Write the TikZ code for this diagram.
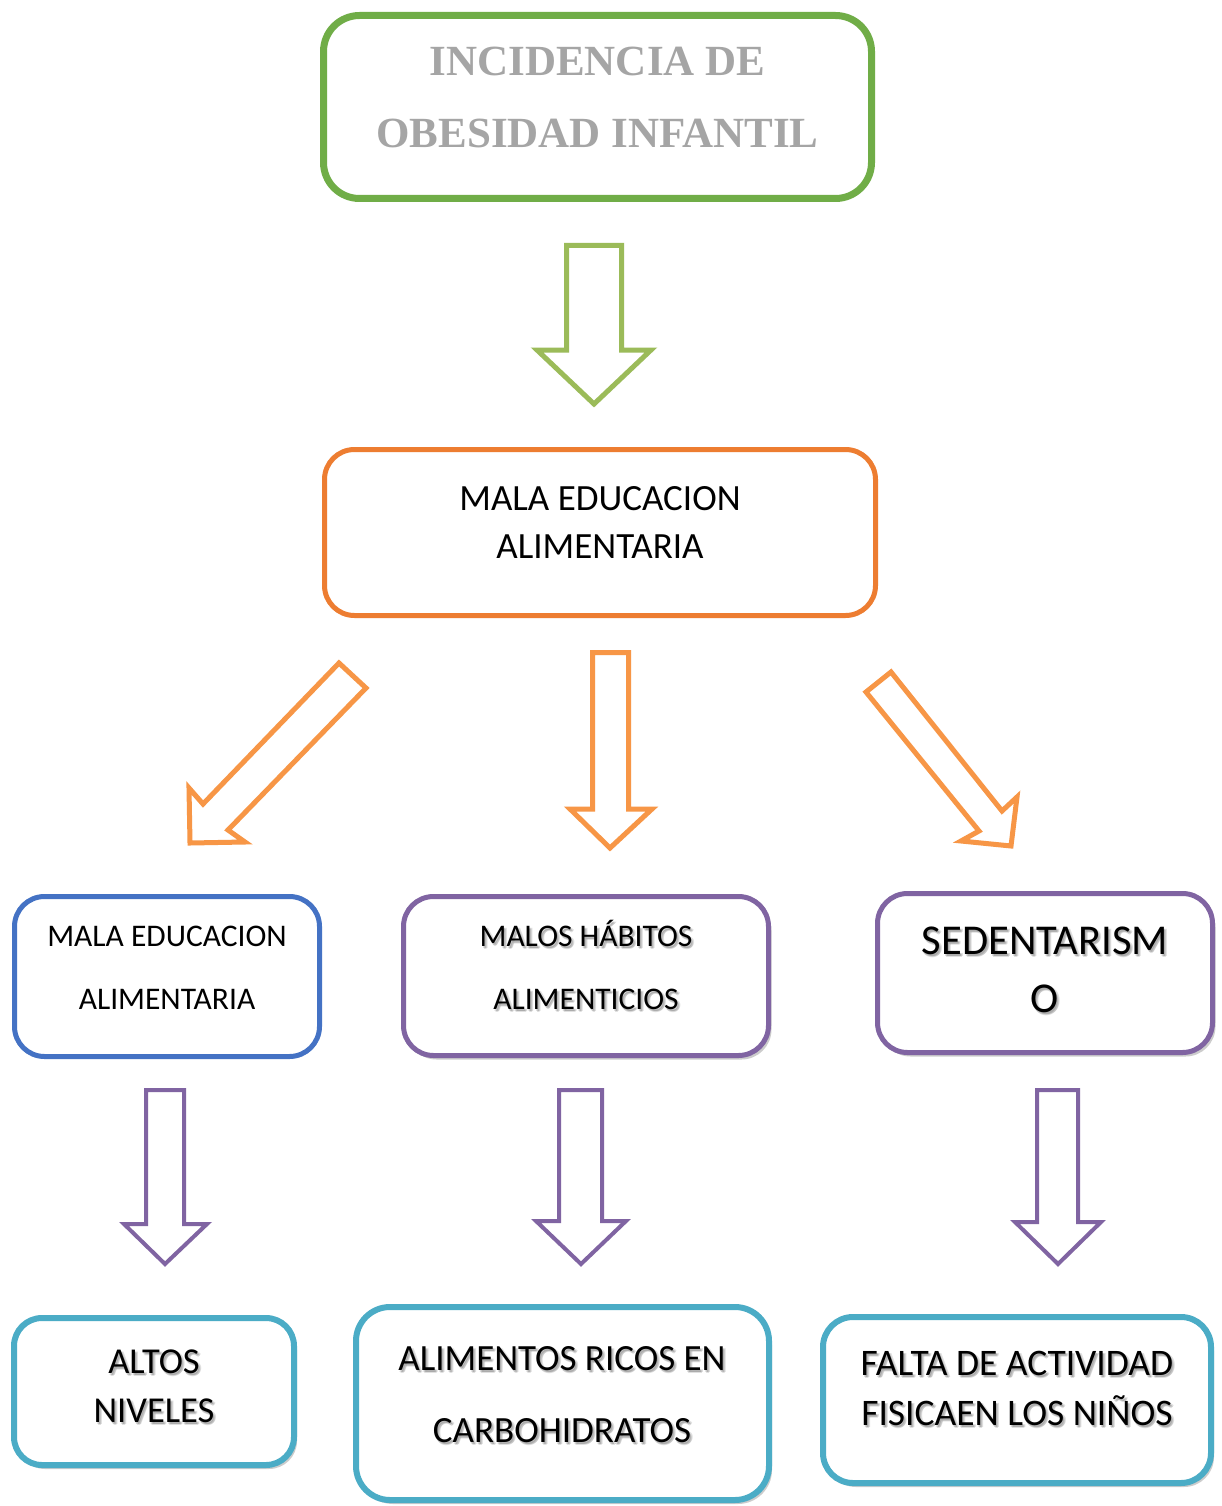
\documentclass[tikz,border=0pt]{standalone}
\usepackage{fontspec}
\setmainfont{Carlito}
\newfontfamily\titlefont{Liberation Serif}
\usetikzlibrary{shadows}
\definecolor{cgreen}{HTML}{70AD47}
\definecolor{clgreen}{HTML}{9BBB59}
\definecolor{corange}{HTML}{ED7D31}
\definecolor{clorange}{HTML}{F79646}
\definecolor{cblue}{HTML}{4472C4}
\definecolor{cpurple}{HTML}{8064A2}
\definecolor{cteal}{HTML}{4BACC6}
\definecolor{cgraytxt}{HTML}{A5A5A5}
\tikzset{
  boxnode/.style={draw, fill=white, rounded corners=30pt, inner sep=0pt},
  softshadow/.style={drop shadow={shadow xshift=3pt, shadow yshift=-4pt, opacity=0.2, fill=black}},
  txt/.style={anchor=base, inner sep=0pt, font=\fontsize{#1}{#1}\selectfont},
  shtxt/.style={anchor=base, inner sep=0pt, text=black, opacity=0.12, font=\fontsize{#1}{#1}\selectfont},
  titletxt/.style={anchor=base, inner sep=0pt, text=cgraytxt, font=\titlefont\bfseries\fontsize{43}{43}\selectfont},
  blockarrow/.style={line width=#1, line join=miter, fill=white},
}
\newcommand\sline[5]{%
  \node[shtxt=#4] (#1s) at (#2+2,#3+3) {#5};
  \node[shtxt=#4] (#1t) at (#2+3,#3+2) {#5};
  \node[shtxt=#4] (#1u) at (#2+1,#3+2) {#5};
  \node[txt=#4] (#1) at (#2,#3) {#5};
}
\begin{document}
\begin{tikzpicture}[x=1pt,y=-1pt]
\useasboundingbox (0,0) rectangle (1222,1506);
\fill[white] (0,0) rectangle (1222,1506);

% top box
\node[boxnode, draw=cgreen, line width=7pt, rounded corners=36pt, minimum width=548pt, minimum height=183pt] (top) at (597.5,107) {};
\node[titletxt] (top1) at (597.5,76) {INCIDENCIA DE};
\node[titletxt] (top2) at (597.5,148) {OBESIDAD INFANTIL};

% green arrow
\draw[blockarrow=5pt, draw=clgreen] (566.5,245.5) -- (621.5,245.5) -- (621.5,350) -- (651,350) -- (594,404) -- (537,350) -- (566.5,350) -- cycle;

% orange box
\node[boxnode, draw=corange, line width=5pt, minimum width=551pt, minimum height=166pt] (mid) at (600,532.5) {};
\node[txt=37] (mid1) at (600,510) {MALA EDUCACION};
\node[txt=37] (mid2) at (600,558) {ALIMENTARIA};

% orange arrows
\draw[blockarrow=5pt, draw=clorange] (339,663) -- (366,688) -- (228,830) -- (245,842) -- (190,843) -- (189,788) -- (203,804) -- cycle;
\draw[blockarrow=5pt, draw=clorange] (592.5,652.5) -- (628.5,652.5) -- (628.5,809) -- (652,809) -- (610,848) -- (570,809) -- (592.5,809) -- cycle;
\draw[blockarrow=5pt, draw=clorange] (891,672) -- (1002,811) -- (1017,797) -- (1011,846) -- (961,841) -- (979,831) -- (866,692) -- cycle;

% row 3
\node[boxnode, draw=cblue, line width=5pt, minimum width=305pt, minimum height=160pt] (b1) at (167,976.5) {};
\node[txt=31.5] (b1a) at (167,946) {MALA EDUCACION};
\node[txt=31.5] (b1b) at (167,1009) {ALIMENTARIA};

\node[boxnode, softshadow, draw=cpurple, line width=5pt, minimum width=365pt, minimum height=159pt] (b2) at (586,976) {};
\sline{b2a}{586}{946}{31.5}{MALOS HÁBITOS}
\sline{b2b}{586}{1009}{31.5}{ALIMENTICIOS}

\node[boxnode, softshadow, draw=cpurple, line width=5pt, minimum width=335pt, minimum height=159pt] (b3) at (1045,973) {};
\sline{b3a}{1045}{954}{42.5}{SEDENTARISM}
\sline{b3b}{1045}{1012}{42.5}{O}

% purple arrows
\draw[blockarrow=4pt, draw=cpurple] (146,1090) -- (184,1090) -- (184,1224) -- (207,1224) -- (165,1264) -- (124,1224) -- (146,1224) -- cycle;
\draw[blockarrow=4pt, draw=cpurple] (559,1090) -- (602,1090) -- (602,1221) -- (626,1221) -- (581,1264) -- (536,1221) -- (559,1221) -- cycle;
\draw[blockarrow=4pt, draw=cpurple] (1037,1090) -- (1078,1090) -- (1078,1222) -- (1101,1222) -- (1058,1264) -- (1015,1222) -- (1037,1222) -- cycle;

% row 4
\node[boxnode, softshadow, draw=cteal, line width=6pt, rounded corners=28pt, minimum width=280pt, minimum height=147pt] (c1) at (154,1391.5) {};
\sline{c1a}{154}{1373}{36.5}{ALTOS}
\sline{c1b}{154}{1422}{36.5}{NIVELES}

\node[boxnode, softshadow, draw=cteal, line width=6pt, rounded corners=34pt, minimum width=413pt, minimum height=193pt] (c2) at (562.5,1403.5) {};
\sline{c2a}{562}{1370}{37}{ALIMENTOS RICOS EN}
\sline{c2b}{562}{1442}{37}{CARBOHIDRATOS}

\node[boxnode, softshadow, draw=cteal, line width=6pt, minimum width=388pt, minimum height=166pt] (c3) at (1017,1400) {};
\sline{c3a}{1017}{1375}{37.5}{FALTA DE ACTIVIDAD}
\sline{c3b}{1017}{1425}{37.5}{FISICAEN LOS NIÑOS}
\end{tikzpicture}
\end{document}
